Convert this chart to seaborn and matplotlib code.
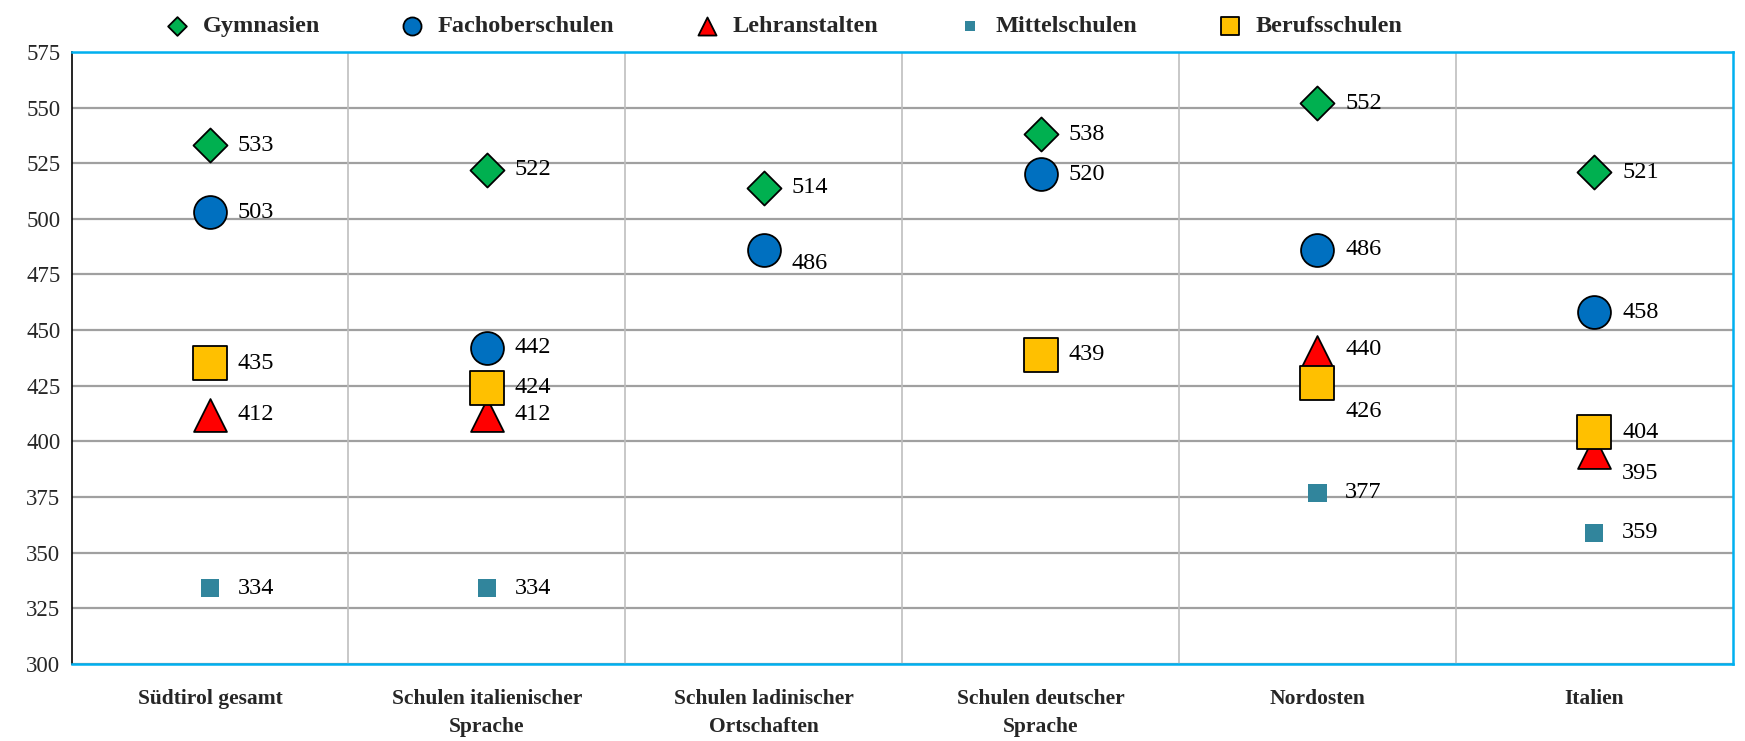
import numpy as np
import pandas as pd
import matplotlib
matplotlib.use("Agg")
import matplotlib.pyplot as plt
import seaborn as sns

categories = ["Südtirol gesamt", "Schulen italienischer\nSprache", "Schulen ladinischer\nOrtschaften",
              "Schulen deutscher\nSprache", "Nordosten", "Italien"]

gymnasien = [533, 522, 514, 538, 552, 521]
fachober = [503, 442, 486, 520, 486, 458]
lehranstalten = [412, 412, np.nan, np.nan, 440, 395]
mittelschulen = [334, 334, np.nan, np.nan, 377, 359]
berufsschulen = [435, 424, np.nan, 439, 426, 404]

series = {
    "Gymnasien": gymnasien,
    "Fachoberschulen": fachober,
    "Lehranstalten": lehranstalten,
    "Mittelschulen": mittelschulen,
    "Berufsschulen": berufsschulen,
}

# marker, face colour, edge colour, size
styles = {
    "Gymnasien": ("D", "#00B050", "black", 300),
    "Fachoberschulen": ("o", "#0070C0", "black", 560),
    "Lehranstalten": ("^", "#FF0000", "black", 560),
    "Mittelschulen": ("s", "#31859C", "none", 170),
    "Berufsschulen": ("s", "#FFC000", "black", 600),
}

# label offsets (points) for the few labels that are not placed plainly right
label_off = {
    ("Fachoberschulen", 2): (20, -10),
    ("Berufsschulen", 4): (20, -20),
    ("Lehranstalten", 4): (20, 2),
    ("Lehranstalten", 5): (20, -15),
    ("Berufsschulen", 5): (20, 0),
}

sns.set_theme(style="white")
plt.rcParams["font.family"] = ["Liberation Serif", "DejaVu Serif"]

rows = []
for name, vals in series.items():
    for i, v in enumerate(vals):
        rows.append({"series": name, "x": i, "value": v})
df = pd.DataFrame(rows).dropna()

fig, ax = plt.subplots(figsize=(17.45, 7.41), dpi=100)
fig.subplots_adjust(left=0.041, right=0.993, top=0.93, bottom=0.104)

for name in series:
    m, fc, ec, s = styles[name]
    sub = df[df["series"] == name]
    sns.scatterplot(data=sub, x="x", y="value", ax=ax, marker=m, color=fc,
                    edgecolor=ec, linewidth=1.3, s=s, label=name, zorder=3)
    for _, r in sub.iterrows():
        dx, dy = label_off.get((name, int(r["x"])), (20, 0))
        ax.annotate(f"{int(r['value'])}", (r["x"], r["value"]), xytext=(dx, dy),
                    textcoords="offset points", va="center", ha="left",
                    fontsize=17.5, color="black", zorder=4)

ax.set_xlim(-0.5, 5.5)
ax.set_ylim(300, 575)
ax.set_yticks(np.arange(300, 576, 25))
ax.set_xticks(range(len(categories)))
ax.set_xticklabels(categories, fontsize=15.5, fontweight="bold", linespacing=1.55, va="top")
for t in ax.get_yticklabels():
    t.set_fontsize(16.5)
ax.set_xlabel("")
ax.set_ylabel("")
ax.tick_params(axis="x", length=0, pad=18)
ax.tick_params(axis="y", length=0, pad=8)

ax.yaxis.grid(True, color="#A0A0A0", linewidth=1.6)
for b in np.arange(0.5, 5.0, 1.0):
    ax.axvline(b, color="#BFBFBF", linewidth=1.2, zorder=1)
ax.set_axisbelow(True)

for side in ["top", "right", "bottom"]:
    ax.spines[side].set_color("#00B0F0")
    ax.spines[side].set_linewidth(1.8)
ax.spines["left"].set_color("black")
ax.spines["left"].set_linewidth(1.2)

handles, labels = ax.get_legend_handles_labels()
leg = ax.legend(handles, labels, loc="lower center", bbox_to_anchor=(0.425, 1.0), ncol=5,
                frameon=False, prop={"weight": "bold", "size": 17.5},
                handletextpad=0.05, columnspacing=2.8, markerscale=0.55, borderaxespad=0.2)

fig.savefig("out.png", dpi=100)
